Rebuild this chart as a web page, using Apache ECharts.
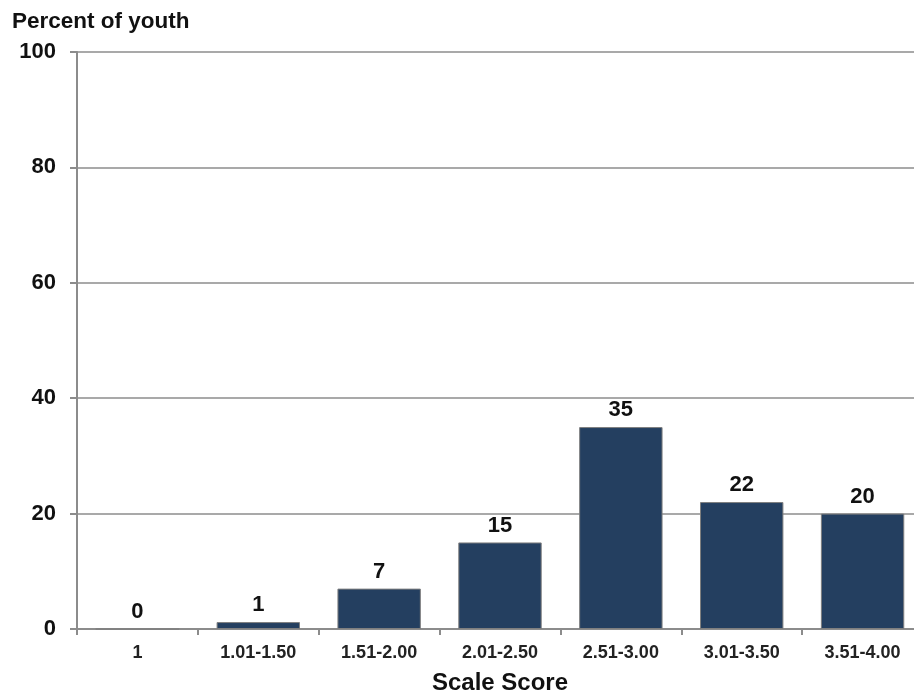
<!DOCTYPE html>
<html><head><meta charset="utf-8">
<script src="https://cdn.jsdelivr.net/npm/echarts@6/dist/echarts.min.js"></script>
<style>html,body{margin:0;padding:0;background:#fff;overflow:hidden}
#wrap{width:914px;height:694px;overflow:hidden;position:relative}
#c{width:923px;height:694px;position:absolute;left:0;top:0}</style>
</head><body><div id="wrap"><div id="c"></div></div>
<script>
const categories = ['1','1.01-1.50','1.51-2.00','2.01-2.50','2.51-3.00','3.01-3.50','3.51-4.00'];
const values = [0, 1.2, 7, 15, 35, 22, 20];
const labels = ['0','1','7','15','35','22','20'];
const yTicks = [0, 20, 40, 60, 80, 100];

const chart = echarts.init(document.getElementById('c'));
const F = '"Liberation Sans", Arial, sans-serif';
chart.setOption({
  animation: false,
  grid: {left: 77, right: 0, top: 52, bottom: 65, containLabel: false, outerBoundsMode: 'none'},
  title: {text: 'Percent of youth', left: 12, top: 10, padding: 0,
    textStyle: {fontFamily: F, fontSize: 22.5, fontWeight: 'bold', color: '#111'}},
  xAxis: {
    type: 'category', data: categories,
    name: 'Scale Score', nameLocation: 'middle', nameGap: 42,
    nameTextStyle: {fontFamily: F, fontSize: 24, fontWeight: 'bold', color: '#111'},
    axisLine: {lineStyle: {color: '#8c8c8c', width: 2}},
    axisTick: {show: true, length: 6, lineStyle: {color: '#8c8c8c', width: 2}},
    axisLabel: {fontFamily: F, fontSize: 18, fontWeight: 'bold', color: '#222', margin: 15}
  },
  yAxis: {
    type: 'value', min: 0, max: 100, interval: 20,
    axisLine: {show: true, lineStyle: {color: '#8c8c8c', width: 2}},
    axisTick: {show: true, length: 7, lineStyle: {color: '#8c8c8c', width: 2}},
    splitLine: {lineStyle: {color: '#8c8c8c', width: 1.5}},
    axisLabel: {fontFamily: F, fontSize: 22, fontWeight: 'bold', color: '#111', margin: 21,
      formatter: v => yTicks.includes(v) ? String(v) : ''}
  },
  series: [{
    type: 'bar', data: values, barWidth: '69%',
    itemStyle: {color: '#243F60', borderColor: '#7f7f7f', borderWidth: 1},
    label: {show: true, position: 'top', distance: 6,
      fontFamily: F, fontSize: 22, fontWeight: 'bold', color: '#111',
      formatter: p => labels[p.dataIndex]}
  }]
});
</script></body></html>
